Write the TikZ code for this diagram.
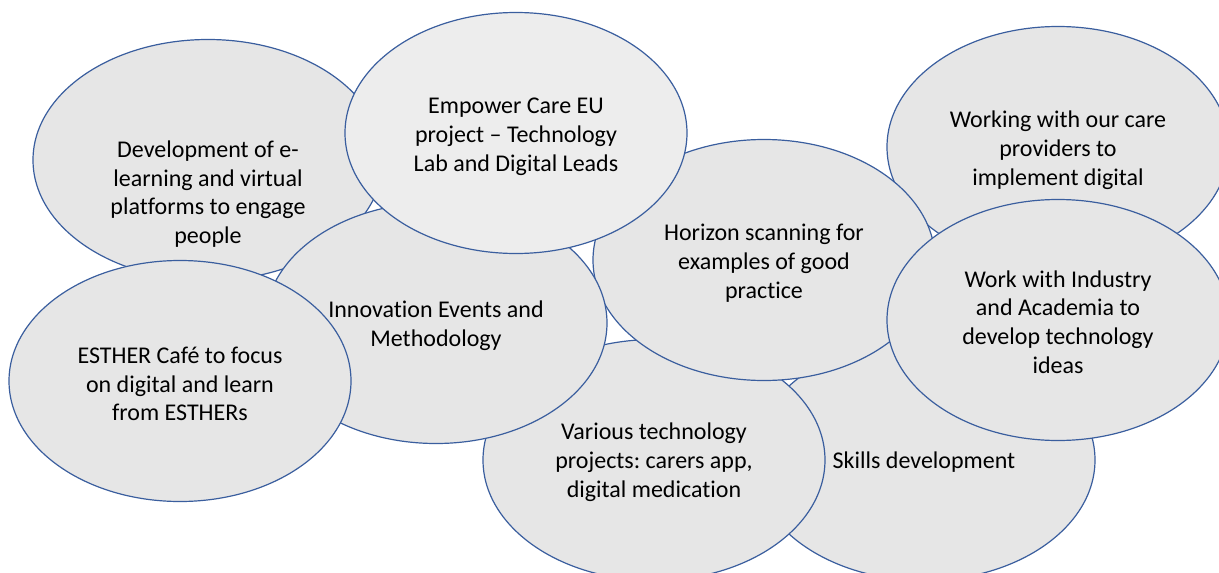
\documentclass[tikz,border=0pt]{standalone}
\usepackage{fontspec}
\setmainfont{Carlito}[Ligatures={NoCommon}]
\usetikzlibrary{shapes.geometric}
\definecolor{rim}{HTML}{3A5E9E}
\definecolor{bubblefill}{HTML}{E6E6E6}
\definecolor{bubblelight}{HTML}{EDEDED}
\frenchspacing
\begin{document}
\begin{tikzpicture}[x=1pt,y=-1pt,
  bubble/.style={ellipse, draw=rim, line width=1.2pt, fill=bubblefill,
    minimum width=342pt, minimum height=241pt, inner sep=0pt},
  caption/.style={align=center, inner sep=0pt, text=black,
    font=\fontsize{24}{28.8}\selectfont}]
\useasboundingbox (0,0) rectangle (1219,573);

% back row first, front row last; each caption sits just below its centre
\node[bubble, minimum width=350pt] (dev) at (208,160) {};
\node[caption] (devtext) at ([yshift=-34pt]dev.center)
  {Development of e-\\learning and virtual\\platforms to engage\\people};

\node[bubble] (care) at (1058,147) {};
\node[caption] (caretext) at ([yshift=-3pt]care.center)
  {Working with our care\\providers to\\implement digital};

\node[bubble] (skills) at (924,460) {};
\node[caption] (skillstext) at ([yshift=-2pt]skills.center) {Skills development};

\node[bubble] (various) at (654,460) {};
\node[caption] (varioustext) at ([yshift=-2pt]various.center)
  {Various technology\\projects: carers app,\\digital medication};

\node[bubble] (horizon) at (764,260) {};
\node[caption] (horizontext) at ([yshift=-3pt]horizon.center)
  {Horizon scanning for\\examples of good\\practice};

\node[bubble] (innov) at (436,323) {};
\node[caption] (innovtext) at ([yshift=-3pt]innov.center)
  {Innovation Events and\\Methodology};

\node[bubble, fill=bubblelight] (empower) at (516,133) {};
\node[caption] (empowertext) at ([yshift=-4pt]empower.center)
  {Empower Care EU\\project – Technology\\Lab and Digital Leads};

\node[bubble] (esther) at (180,381) {};
\node[caption] (esthertext) at ([yshift=-3pt]esther.center)
  {ESTHER Café to focus\\on digital and learn\\from ESTHERs};

\node[bubble] (industry) at (1058,320) {};
\node[caption] (industrytext) at ([yshift=-2pt]industry.center)
  {Work with Industry\\and Academia to\\develop technology\\ideas};
\end{tikzpicture}
\end{document}
